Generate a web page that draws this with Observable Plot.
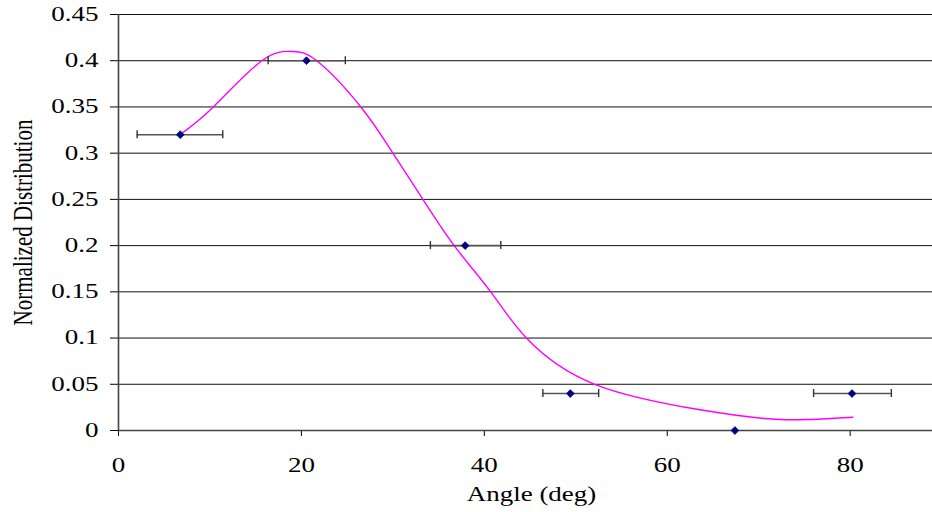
<!DOCTYPE html>
<html>
<head>
<meta charset="utf-8">
<script src="https://cdn.jsdelivr.net/npm/d3@7"></script>
<script src="https://cdn.jsdelivr.net/npm/@observablehq/plot@0.6"></script>
<style>
  html, body { margin: 0; padding: 0; background: #fff; }
  #chart svg { display: block; }
</style>
</head>
<body>
<div id="chart"></div>
<script>
// Measured points with horizontal error bars
const angles   = [6.75, 20.55, 37.9, 49.4, 67.4, 80.2];
const values   = [0.32, 0.40, 0.20, 0.04, 0.0, 0.04];
const errLow   = [2.04, 16.36, 34.1, 46.4, null, 76.0];
const errHigh  = [11.4, 24.8, 41.8, 52.5, null, 84.5];

// Smooth fitted curve (magenta)
const curveX = [6.73, 10.37, 15.67, 18.95, 21.68, 26.5, 30.0, 33.28, 36.7, 40.7, 44.6, 52.06, 63.6, 72.3, 80.3];
const curveY = [0.320, 0.350, 0.400, 0.410, 0.400, 0.350, 0.300, 0.250, 0.200, 0.150, 0.100, 0.050, 0.0224, 0.0119, 0.0144];

// Axes
const xTicks = [0, 20, 40, 60, 80];
const xTickLabels = ["0", "20", "40", "60", "80"];
const yTicks = [0, 0.05, 0.1, 0.15, 0.2, 0.25, 0.3, 0.35, 0.4, 0.45];
const yTickLabels = ["0", "0.05", "0.1", "0.15", "0.2", "0.25", "0.3", "0.35", "0.4", "0.45"];
const xLabel = "Angle (deg)";
const yLabel = "Normalized Distribution";

const points = angles.map((a, i) => ({x: a, y: values[i], lo: errLow[i], hi: errHigh[i]}));
const bars = points.filter(d => d.lo != null);
const curve = curveX.map((x, i) => ({x, y: curveY[i]}));

const chart = Plot.plot({
  width: 932,
  height: 512,
  marginTop: 14,
  marginRight: 0,
  marginBottom: 82,
  marginLeft: 118,
  style: {fontFamily: "'Liberation Serif', 'Times New Roman', serif", fontSize: "20px", color: "#000", background: "#fff"},
  x: {domain: [0, 89], ticks: xTicks, tickFormat: (d) => xTickLabels[xTicks.indexOf(d)], tickSize: 6, tickPadding: 21, label: null},
  y: {domain: [0, 0.45], ticks: yTicks, tickFormat: (d) => yTickLabels[yTicks.indexOf(d)], tickSize: 8, tickPadding: 12, label: null},
  marks: [
    Plot.ruleY(yTicks.filter(d => d > 0), {stroke: "#111", strokeWidth: 1}),
    Plot.ruleX([0], {stroke: "#444", strokeWidth: 1.6}),
    Plot.ruleY([0], {stroke: "#444", strokeWidth: 1.6}),
    Plot.line(curve, {x: "x", y: "y", stroke: "#ff00ff", strokeWidth: 1.4, curve: "natural"}),
    Plot.ruleY(bars, {y: "y", x1: "lo", x2: "hi", stroke: "#555", strokeWidth: 1.6}),
    Plot.ruleX(bars, {x: "lo", y1: "y", y2: "y", insetTop: -4, insetBottom: -4, stroke: "#333", strokeWidth: 1.4}),
    Plot.ruleX(bars, {x: "hi", y1: "y", y2: "y", insetTop: -4, insetBottom: -4, stroke: "#333", strokeWidth: 1.4}),
    Plot.dot(points, {x: "x", y: "y", symbol: "square", rotate: 45, r: 3.1, fill: "#000080", stroke: "#000080", strokeWidth: 0.8}),
    Plot.text([xLabel], {frameAnchor: "bottom", dy: 70, dx: 6, text: d => d, fontSize: 20, fill: "#000"}),
    Plot.text([yLabel], {frameAnchor: "left", dx: -96, rotate: -90, textAnchor: "middle", text: d => d, fontSize: 21, fill: "#000"})
  ]
});

// Reference text is drawn horizontally stretched; mimic that
const sx = 1.35;
chart.querySelectorAll("text").forEach(t => {
  const x = +t.getAttribute("x") || 0, y = +t.getAttribute("y") || 0;
  const tr = t.getAttribute("transform") || "";
  const rotated = /rotate/.test(tr);
  const s = rotated ? `scale(1,${sx})` : `scale(${sx},1)`;
  t.setAttribute("transform", `${tr} translate(${x},${y}) ${s} translate(${-x},${-y})`);
});

document.getElementById("chart").appendChild(chart);
</script>
</body>
</html>
